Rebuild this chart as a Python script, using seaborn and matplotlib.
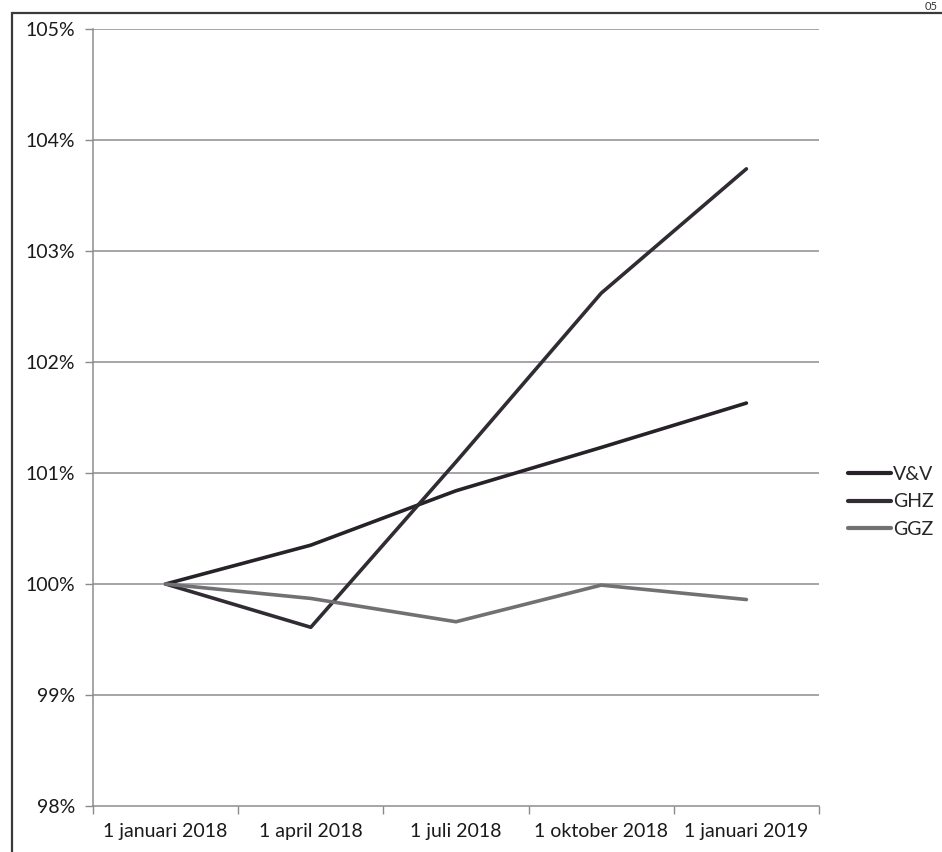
import pandas as pd
import matplotlib.pyplot as plt
import matplotlib.patches as patches
from matplotlib.ticker import FixedLocator, FuncFormatter
import seaborn as sns

dates = ['1 januari 2018', '1 april 2018', '1 juli 2018', '1 oktober 2018', '1 januari 2019']
series_names = ['V&V', 'GHZ', 'GGZ']
vv = [100.0, 100.35, 100.84, 101.23, 101.63]
ghz = [100.0, 99.61, 101.10, 102.62, 103.74]
ggz = [100.0, 99.87, 99.66, 99.99, 99.86]
y_ticks = [98, 99, 100, 101, 102, 103, 104, 105]

rows = []
for name_, vals in zip(series_names, [vv, ghz, ggz]):
    for i, v in enumerate(vals):
        rows.append({'pos': i, 'value': v, 'serie': name_})
df = pd.DataFrame(rows)

sns.set_style('white')
plt.rcParams['font.family'] = ['Lato', 'DejaVu Sans']

fig = plt.figure(figsize=(9.42, 8.52), dpi=100)
ax = fig.add_axes([93 / 942, 1 - 806 / 852, (819 - 93) / 942, (806 - 29) / 852])

palette = {'V&V': '#262228', 'GHZ': '#312c33', 'GGZ': '#737074'}
sns.lineplot(data=df, x='pos', y='value', hue='serie', palette=palette,
             linewidth=2.6, ax=ax, legend=False, zorder=3)

ax.set_xlim(-0.5, len(dates) - 0.5)
ax.set_ylim(y_ticks[0], y_ticks[-1])
ax.set_yticks(y_ticks)
ax.yaxis.set_major_formatter(FuncFormatter(lambda v, p: '%d%%' % v))
ax.set_xticks(range(len(dates)))
ax.set_xticklabels(dates)
ax.xaxis.set_minor_locator(FixedLocator([i - 0.5 for i in range(len(dates) + 1)]))
ax.tick_params(axis='x', which='major', length=0, labelsize=14, pad=12, colors='#1a1a1a')
ax.tick_params(axis='x', which='minor', length=6, width=1, color='#8a8a8a', direction='out', bottom=True)
ax.tick_params(axis='y', length=6, width=1, color='#8a8a8a', direction='out', left=True,
               labelsize=14, pad=7, colors='#1a1a1a')
ax.tick_params(axis='y', color='#8a8a8a')
ax.tick_params(axis='x', which='minor', color='#8a8a8a')

for v in y_ticks[1:]:
    ax.axhline(v, color='#8e8b90', linewidth=1.1, zorder=1)
ax.set_xlabel('')
ax.set_ylabel('')
for s in ['top', 'right']:
    ax.spines[s].set_visible(False)
for s in ['left', 'bottom']:
    ax.spines[s].set_color('#8e8b90')
    ax.spines[s].set_linewidth(1.1)

# legend to the right of the plot
handles = [plt.Line2D([], [], color=palette[n], linewidth=3) for n in series_names]
fig.legend(handles, series_names, loc='center left', bbox_to_anchor=(848 / 942, 1 - 502 / 852),
           frameon=False, fontsize=14, handlelength=2.2, handletextpad=0.1,
           labelspacing=0.55, borderpad=0, borderaxespad=0)

# outer chart border
fig.patches.append(patches.Rectangle((12 / 942, -0.05), 1.2, 1 - 13 / 852 + 0.05,
                                     transform=fig.transFigure, fill=False,
                                     edgecolor='#3a3a3a', linewidth=1.6))
fig.text(0.995, 1 - 6 / 852, '05', fontsize=8, color='#333333', ha='right', va='center')

plt.savefig('out.png', dpi=100)
plt.close()
